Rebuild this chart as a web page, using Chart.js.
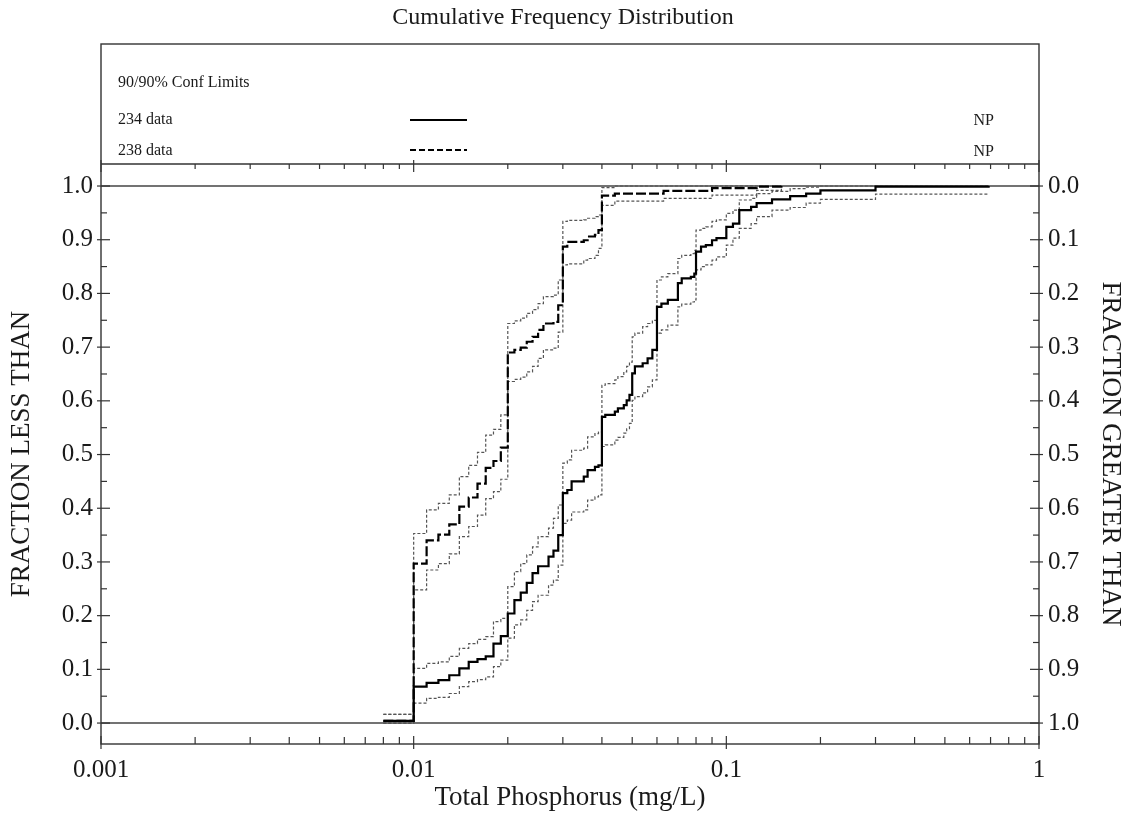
<!DOCTYPE html>
<html>
<head>
<meta charset="utf-8">
<script src="https://cdn.jsdelivr.net/npm/chart.js@4.4.1/dist/chart.umd.min.js"></script>
<style>
  html, body { margin: 0; padding: 0; background: #fff; }
  #wrap { width: 1126px; height: 824px; }
</style>
</head>
<body>
<div id="wrap"><canvas id="cfd" width="1126" height="824"></canvas></div>
<script>
// station 234 (solid) - empirical CDF with 90/90 limits
const conc234 = [0.008, 0.010, 0.011, 0.012, 0.013, 0.014, 0.015, 0.016, 0.017, 0.018, 0.019,
  0.020, 0.021, 0.022, 0.023, 0.024, 0.025, 0.027, 0.028, 0.029,
  0.030, 0.031, 0.032, 0.035, 0.036, 0.038, 0.039,
  0.040, 0.041, 0.044, 0.045, 0.047, 0.048, 0.049,
  0.050, 0.051, 0.054, 0.056, 0.058, 0.060, 0.062, 0.065,
  0.070, 0.072, 0.077, 0.079, 0.080, 0.083, 0.086, 0.090, 0.093,
  0.100, 0.105, 0.110, 0.120, 0.125, 0.140, 0.160, 0.180, 0.200, 0.300, 0.690];
const frac234 = [0.004, 0.068, 0.075, 0.080, 0.089, 0.102, 0.114, 0.119, 0.124, 0.148, 0.162,
  0.204, 0.229, 0.243, 0.261, 0.279, 0.292, 0.310, 0.321, 0.350,
  0.428, 0.434, 0.450, 0.459, 0.471, 0.477, 0.480,
  0.570, 0.574, 0.580, 0.586, 0.592, 0.601, 0.611,
  0.651, 0.664, 0.670, 0.679, 0.695, 0.775, 0.781, 0.788,
  0.819, 0.828, 0.831, 0.837, 0.878, 0.887, 0.890, 0.899, 0.903,
  0.924, 0.930, 0.955, 0.961, 0.968, 0.975, 0.981, 0.986, 0.992, 0.999, 1.000];
const hi234 = [0.016, 0.102, 0.111, 0.114, 0.124, 0.139, 0.148, 0.156, 0.161, 0.189, 0.195,
  0.254, 0.282, 0.297, 0.313, 0.328, 0.347, 0.363, 0.381, 0.406,
  0.484, 0.490, 0.508, 0.512, 0.533, 0.539, 0.542,
  0.629, 0.632, 0.639, 0.645, 0.654, 0.664, 0.672,
  0.719, 0.726, 0.738, 0.744, 0.750, 0.825, 0.831, 0.837,
  0.865, 0.871, 0.874, 0.880, 0.918, 0.921, 0.924, 0.934, 0.937,
  0.949, 0.955, 0.974, 0.977, 0.986, 0.990, 0.995, 0.998, 1.000, 1.000, 1.000];
const lo234 = [0.000, 0.037, 0.046, 0.048, 0.055, 0.068, 0.077, 0.081, 0.086, 0.105, 0.117,
  0.158, 0.183, 0.192, 0.210, 0.226, 0.238, 0.257, 0.266, 0.294,
  0.372, 0.378, 0.393, 0.397, 0.415, 0.421, 0.425,
  0.515, 0.518, 0.527, 0.532, 0.540, 0.548, 0.558,
  0.601, 0.608, 0.615, 0.626, 0.639, 0.726, 0.732, 0.741,
  0.775, 0.780, 0.784, 0.788, 0.844, 0.850, 0.853, 0.862, 0.868,
  0.890, 0.903, 0.921, 0.930, 0.943, 0.955, 0.960, 0.968, 0.975, 0.985, 0.985];

// station 238 (dashed)
const conc238 = [0.008, 0.010, 0.011, 0.012, 0.013, 0.014, 0.015, 0.016, 0.017, 0.018, 0.019,
  0.020, 0.021, 0.022, 0.023, 0.024, 0.025, 0.026, 0.028, 0.029,
  0.030, 0.031, 0.035, 0.036, 0.038, 0.039,
  0.040, 0.044, 0.063, 0.090, 0.125, 0.150];
const frac238 = [0.004, 0.297, 0.340, 0.351, 0.370, 0.403, 0.420, 0.446, 0.475, 0.488, 0.513,
  0.690, 0.695, 0.699, 0.710, 0.719, 0.732, 0.744, 0.747, 0.778,
  0.887, 0.896, 0.899, 0.906, 0.909, 0.918,
  0.982, 0.986, 0.991, 0.996, 0.999, 1.000];
const hi238 = [0.016, 0.353, 0.397, 0.409, 0.425, 0.459, 0.480, 0.504, 0.536, 0.547, 0.574,
  0.744, 0.749, 0.754, 0.763, 0.770, 0.781, 0.794, 0.797, 0.825,
  0.934, 0.936, 0.937, 0.940, 0.943, 0.946,
  0.997, 1.000, 1.000, 1.000, 1.000, 1.000];
const lo238 = [0.000, 0.248, 0.285, 0.297, 0.315, 0.347, 0.366, 0.387, 0.418, 0.431, 0.454,
  0.636, 0.640, 0.644, 0.654, 0.664, 0.679, 0.695, 0.698, 0.728,
  0.853, 0.855, 0.862, 0.865, 0.871, 0.884,
  0.964, 0.972, 0.977, 0.983, 0.992, 0.995];

const xTickVals = [0.001, 0.01, 0.1, 1];
const yTickVals = [0, 0.1, 0.2, 0.3, 0.4, 0.5, 0.6, 0.7, 0.8, 0.9, 1.0];
const refLines = [0, 1];

const serif = '"Liberation Serif", "Times New Roman", serif';
const ink = '#1a1a1a';
const toPoints = (xs, ys) => xs.map((x, i) => ({ x: x, y: ys[i] }));

const main234 = { label: '234 data', note: 'NP', borderColor: '#000', borderWidth: 2.2, borderDash: [] };
const main238 = { label: '238 data', note: 'NP', borderColor: '#000', borderWidth: 2.2, borderDash: [10, 3] };
const ciStyle = { borderColor: '#555', borderWidth: 1.2, borderDash: [3, 2] };

function stepSet(style, data) {
  return {
    label: style.label || 'limit',
    data: data,
    borderColor: style.borderColor,
    borderWidth: style.borderWidth,
    borderDash: style.borderDash,
    stepped: 'before',
    pointRadius: 0,
    fill: false
  };
}

const seg = (ctx, x1, y1, x2, y2) => {
  ctx.beginPath(); ctx.moveTo(x1, y1); ctx.lineTo(x2, y2); ctx.stroke();
};

const framePlugin = {
  id: 'frame',
  beforeDatasetsDraw(chart) {
    const { ctx, chartArea: a, scales: { y } } = chart;
    ctx.save();
    ctx.strokeStyle = '#444';
    ctx.lineWidth = 1.5;
    refLines.forEach(v => seg(ctx, a.left, y.getPixelForValue(v), a.right, y.getPixelForValue(v)));
    ctx.restore();
  },
  afterDraw(chart) {
    const { ctx, chartArea: a, scales: { x, y } } = chart;
    const boxTop = 44;
    ctx.save();
    ctx.strokeStyle = '#333';
    ctx.lineWidth = 1.4;
    ctx.strokeRect(a.left, boxTop, a.right - a.left, a.bottom - boxTop);
    seg(ctx, a.left, a.top, a.right, a.top);

    // y ticks, both sides
    ctx.lineWidth = 1.2;
    yTickVals.forEach((v, i) => {
      const py = y.getPixelForValue(v);
      seg(ctx, a.left - 4, py, a.left + 9, py);
      seg(ctx, a.right - 9, py, a.right + 4, py);
      if (i < yTickVals.length - 1) {
        const pm = y.getPixelForValue((v + yTickVals[i + 1]) / 2);
        seg(ctx, a.left, pm, a.left + 6, pm);
        seg(ctx, a.right - 6, pm, a.right, pm);
      }
    });
    // x ticks, top and bottom
    xTickVals.forEach((v, i) => {
      const px = x.getPixelForValue(v);
      seg(ctx, px, a.bottom - 8, px, a.bottom + 5);
      seg(ctx, px, a.top - 4, px, a.top + 8);
      if (i < xTickVals.length - 1) {
        for (let k = 2; k <= 9; k++) {
          const pm = x.getPixelForValue(k * v);
          seg(ctx, pm, a.bottom - 7, pm, a.bottom);
          seg(ctx, pm, a.top, pm, a.top + 5);
        }
      }
    });

    // legend block
    ctx.fillStyle = ink;
    ctx.font = '16px ' + serif;
    ctx.textBaseline = 'middle';
    ctx.textAlign = 'left';
    ctx.fillText('90/90% Conf Limits', a.left + 17, 83);
    [main234, main238].forEach((s, i) => {
      const ty = 120 + i * 31;
      ctx.textAlign = 'left';
      ctx.fillText(s.label, a.left + 17, ty);
      ctx.textAlign = 'right';
      ctx.fillText(s.note, a.right - 45, ty + 1);
      ctx.strokeStyle = s.borderColor;
      ctx.lineWidth = 2;
      ctx.setLineDash(i ? [6, 3] : []);
      seg(ctx, a.left + 309, ty - i, a.left + 366, ty - i);
      ctx.setLineDash([]);
    });
    ctx.restore();
  }
};

const tickFont = { family: serif, size: 25 };
const titleFont = { family: serif, size: 27 };

new Chart(document.getElementById('cfd'), {
  type: 'line',
  data: {
    datasets: [
      stepSet(main234, toPoints(conc234, frac234)),
      stepSet(main238, toPoints(conc238, frac238)),
      stepSet(ciStyle, toPoints(conc234, hi234)),
      stepSet(ciStyle, toPoints(conc234, lo234)),
      stepSet(ciStyle, toPoints(conc238, hi238)),
      stepSet(ciStyle, toPoints(conc238, lo238))
    ]
  },
  options: {
    responsive: false,
    animation: false,
    events: [],
    layout: { padding: 0 },
    plugins: {
      legend: { display: false },
      tooltip: { enabled: false },
      title: {
        display: true,
        text: 'Cumulative Frequency Distribution',
        color: ink,
        font: { family: serif, size: 24, weight: 'normal', lineHeight: 1.25 },
        padding: { top: 3, bottom: 131 }
      }
    },
    scales: {
      x: {
        type: 'logarithmic',
        min: 0.001,
        max: 1,
        afterBuildTicks: s => { s.ticks = xTickVals.map(v => ({ value: v })); },
        afterFit: s => { s.height = 80; },
        grid: { display: false },
        border: { display: false },
        ticks: {
          color: ink, font: tickFont, padding: 3, maxRotation: 0,
          callback: v => String(v)
        },
        title: {
          display: true, text: 'Total Phosphorus (mg/L)', color: ink, font: titleFont,
          padding: { top: 0, bottom: 10 }
        }
      },
      y: {
        position: 'left',
        min: -0.039,
        max: 1.041,
        afterBuildTicks: s => { s.ticks = yTickVals.map(v => ({ value: v })); },
        afterFit: s => { s.width = 101; },
        grid: { display: false },
        border: { display: false },
        ticks: { color: ink, font: tickFont, padding: 0, callback: v => v.toFixed(1) },
        title: {
          display: true, text: 'FRACTION LESS THAN', color: ink, font: titleFont,
          padding: { top: 6, bottom: 0 }
        }
      },
      y2: {
        position: 'right',
        reverse: true,
        min: -0.041,
        max: 1.039,
        afterBuildTicks: s => { s.ticks = yTickVals.map(v => ({ value: v })); },
        afterFit: s => { s.width = 87; },
        grid: { display: false },
        border: { display: false },
        ticks: { color: ink, font: tickFont, padding: 1, callback: v => v.toFixed(1) },
        title: {
          display: true, text: 'FRACTION GREATER THAN', color: ink, font: titleFont,
          padding: { top: 0, bottom: 0 }
        }
      }
    }
  },
  plugins: [framePlugin]
});
</script>
</body>
</html>
